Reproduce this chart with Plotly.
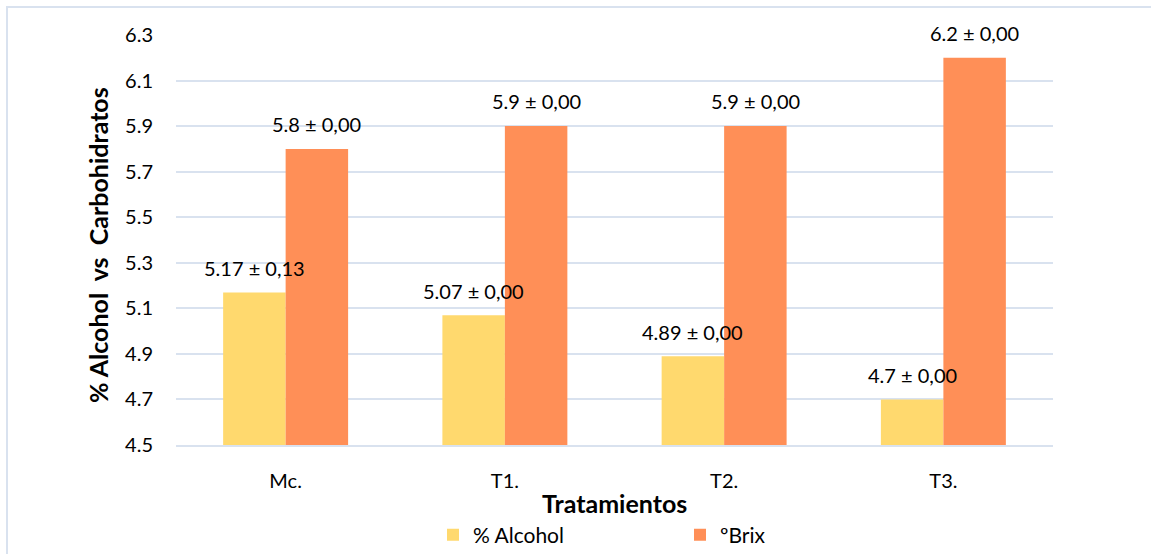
import plotly.graph_objects as go

# Treatments and measured values
categories = ["Mc.", "T1.", "T2.", "T3."]
alcohol = [5.17, 5.07, 4.89, 4.70]
alcohol_sd = ["0,13", "0,00", "0,00", "0,00"]
brix = [5.8, 5.9, 5.9, 6.2]
brix_sd = ["0,00", "0,00", "0,00", "0,00"]
y_ticks = [4.5, 4.7, 4.9, 5.1, 5.3, 5.5, 5.7, 5.9, 6.1, 6.3]

FONT = "Lato"
GRID = "#D9E2EF"
BARGAP = 0.43
W, H = 1151, 554
ML, MR, MT, MB = 176, 98, 35, 109
PW, PH = W - ML - MR, H - MT - MB

fig = go.Figure()
fig.add_trace(go.Bar(name="% Alcohol", x=categories, y=alcohol,
                     marker=dict(color="#FFD96E", line=dict(width=0))))
fig.add_trace(go.Bar(name="ºBrix", x=categories, y=brix,
                     marker=dict(color="#FF8F57", line=dict(width=0))))

# value ± sd labels above each bar
half = (1 - BARGAP) / 4
label_font = dict(family=FONT, size=20, color="#000000")
for i in range(len(categories)):
    fig.add_annotation(x=i - half, y=alcohol[i], xref="x", yref="y",
                       text=f"{alcohol[i]:g} ± {alcohol_sd[i]}", showarrow=False,
                       yanchor="bottom", yshift=10, font=label_font)
    fig.add_annotation(x=i + half, y=brix[i], xref="x", yref="y",
                       text=f"{brix[i]:g} ± {brix_sd[i]}", showarrow=False,
                       yanchor="bottom", yshift=11, font=label_font)

# axis titles
fig.add_annotation(text="<b>Tratamientos</b>", xref="paper", yref="paper",
                   x=0.5, y=-(503 - (MT + PH)) / PH, showarrow=False,
                   xanchor="center", yanchor="middle",
                   font=dict(family=FONT, size=25, color="#000000"))
fig.add_annotation(text="<b>% Alcohol&nbsp; vs&nbsp; Carbohidratos</b>",
                   xref="paper", yref="paper",
                   x=(98 - ML) / PW, y=(MT + PH - 245) / PH, showarrow=False,
                   textangle=-90, xanchor="center", yanchor="middle",
                   font=dict(family=FONT, size=25, color="#000000"))

# outer chart frame
fig.add_shape(type="rect", xref="paper", yref="paper",
              x0=(7 - ML) / PW, x1=1.3, y0=-0.5, y1=(MT + PH - 7) / PH,
              line=dict(color=GRID, width=2), fillcolor="rgba(0,0,0,0)", layer="below")

fig.update_layout(
    width=W, height=H,
    margin=dict(l=ML, r=MR, t=MT, b=MB, autoexpand=False),
    paper_bgcolor="white", plot_bgcolor="white",
    barmode="group", bargap=BARGAP, bargroupgap=0,
    font=dict(family=FONT, size=20, color="#000000"),
    showlegend=True,
    legend=dict(orientation="h", xref="container", yref="container",
                x=433 / W, xanchor="left", y=1 - 535 / H, yanchor="middle",
                font=dict(family=FONT, size=21), entrywidth=202, itemwidth=30,
                bgcolor="rgba(0,0,0,0)"),
    xaxis=dict(
        automargin=False,
        showgrid=False, showline=True, linecolor=GRID, linewidth=2,
        ticks="", ticklabelstandoff=17,
        tickfont=dict(family=FONT, size=20),
    ),
    yaxis=dict(
        automargin=False,
        range=[4.5, 6.3], tickvals=y_ticks, ticktext=[f"{v:.1f}" for v in y_ticks],
        showgrid=True, gridcolor=GRID, gridwidth=2, zeroline=False, showline=False,
        ticks="", ticklabelstandoff=22,
        tickfont=dict(family=FONT, size=20),
    ),
)

fig.write_html("out.html")
